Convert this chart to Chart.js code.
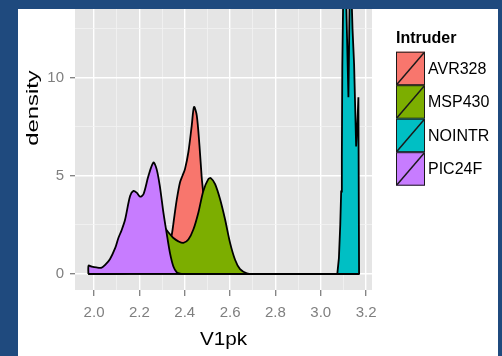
<!DOCTYPE html>
<html>
<head>
<meta charset="utf-8">
<script src="https://cdn.jsdelivr.net/npm/chart.js@4.4.1/dist/chart.umd.min.js"></script>
<style>
  html, body { margin: 0; padding: 0; width: 502px; height: 356px; overflow: hidden; background: #1F4A7E; }
  #frame { position: absolute; left: 18px; top: 9px; width: 480px; height: 347px; background: #ffffff; }
  canvas { display: block; }
</style>
</head>
<body>
<div id="frame"><canvas id="density-chart" width="480" height="347"></canvas></div>
<script>
// series (V1pk -> density)
const avrX = [1.975, 2.1, 2.2, 2.25, 2.3, 2.32, 2.335, 2.343, 2.355, 2.365, 2.379, 2.39, 2.401, 2.416, 2.431, 2.441, 2.453, 2.465, 2.475, 2.482, 2.49, 2.5, 2.52, 2.55, 2.6, 2.65, 3.17];
const avrY = [0, 0, 0.1, 0.3, 0.8, 1.3, 1.7, 2.0, 3.0, 3.8, 4.66, 5.0, 5.34, 6.2, 7.57, 8.51, 8.08, 6.54, 4.9, 4.1, 3.2, 2.0, 1.0, 0.35, 0.05, 0, 0];

const mspX = [1.975, 2.05, 2.1, 2.15, 2.2, 2.25, 2.28, 2.3, 2.318, 2.335, 2.35, 2.372, 2.394, 2.416, 2.438, 2.46, 2.482, 2.504, 2.515, 2.534, 2.556, 2.578, 2.6, 2.622, 2.644, 2.674, 2.703, 3.17];
const mspY = [0, 0.05, 0.3, 1.0, 2.0, 2.7, 2.7, 2.5, 2.26, 2.02, 1.83, 1.66, 1.58, 1.75, 2.26, 3.12, 4.23, 4.83, 4.88, 4.57, 3.8, 2.77, 1.58, 0.72, 0.24, 0.03, 0, 0];

const nointrX = [1.975, 3.073, 3.08, 3.086, 3.09, 3.093, 3.095, 3.1, 3.106, 3.114, 3.122, 3.129, 3.135, 3.14, 3.147, 3.152, 3.156, 3.161, 3.166, 3.169, 3.17];
const nointrY = [0, 0, 0.8, 2.5, 4.2, 6.0, 10.6, 15, 17, 13, 9.0, 15.5, 14.5, 12.5, 10.7, 8.4, 6.5, 7.5, 9.0, 0, 0];

const picX = [1.975, 1.976, 1.99, 2.01, 2.034, 2.049, 2.07, 2.093, 2.107, 2.122, 2.137, 2.159, 2.174, 2.188, 2.203, 2.218, 2.24, 2.262, 2.276, 2.29, 2.306, 2.32, 2.335, 2.35, 2.365, 2.38, 2.4, 3.17];
const picY = [0, 0.42, 0.37, 0.33, 0.32, 0.46, 0.75, 1.31, 1.82, 2.24, 2.77, 3.97, 4.23, 4.14, 3.94, 4.06, 5.0, 5.68, 5.34, 4.49, 3.12, 2.09, 1.06, 0.38, 0.08, 0.01, 0, 0];

const baseX = [1.975, 3.17];
const baseY = [0, 0];

const seriesNames = ["AVR328", "MSP430", "NOINTR", "PIC24F"];
const seriesColors = ["#F8766D", "#7CAE00", "#00BFC4", "#C77CFF"];

const xTicks = [2.0, 2.1, 2.2, 2.3, 2.4, 2.5, 2.6, 2.7, 2.8, 2.9, 3.0, 3.1, 3.2];
const xTickLabels = ["2.0", "", "2.2", "", "2.4", "", "2.6", "", "2.8", "", "3.0", "", "3.2"];
const yTicks = [0, 2.5, 5, 7.5, 10, 12.5];
const yTickLabels = ["0", "", "5", "", "10", ""];

const FONT = "'Liberation Sans', Arial, sans-serif";

function pts(xs, ys) {
  return xs.map((x, i) => ({ x: x, y: ys[i] }));
}

function isMajor(values, labels, v) {
  const i = values.findIndex(t => Math.abs(t - v) < 1e-6);
  return i >= 0 && labels[i] !== "";
}

// grey panel, axis titles and the legend drawn like ggplot
const ggPlugin = {
  id: "ggExtras",
  beforeDraw(chart) {
    const a = chart.chartArea, ctx = chart.ctx;
    ctx.save();
    ctx.fillStyle = "#E5E5E5";
    ctx.fillRect(a.left, a.top, a.right - a.left, a.bottom - a.top);
    ctx.restore();
  },
  afterDraw(chart) {
    const ctx = chart.ctx;
    ctx.save();
    ctx.fillStyle = "#000";

    // y title
    ctx.save();
    ctx.translate(20, 99);
    ctx.rotate(-Math.PI / 2);
    ctx.scale(1.4, 1);
    ctx.font = "17px " + FONT;
    ctx.textAlign = "center";
    ctx.textBaseline = "alphabetic";
    ctx.fillText("density", 0, 0);
    ctx.restore();

    // x title
    ctx.save();
    ctx.translate(205.5, 335.5);
    ctx.scale(1.15, 1);
    ctx.font = "18px " + FONT;
    ctx.textAlign = "center";
    ctx.fillText("V1pk", 0, 0);
    ctx.restore();

    // legend
    const lx = 378, ly = 42.7, kw = 29, kh = 33.5;
    ctx.font = "bold 16px " + FONT;
    ctx.textAlign = "left";
    ctx.fillText("Intruder", lx, 34);
    ctx.font = "16px " + FONT;
    ctx.textBaseline = "middle";
    seriesNames.forEach((name, i) => {
      const y = ly + i * kh;
      ctx.fillStyle = seriesColors[i];
      ctx.fillRect(lx, y, kw, kh);
      ctx.strokeStyle = "#1a1a1a";
      ctx.lineWidth = 1;
      ctx.strokeRect(lx + 0.5, y + 0.5, kw - 1, kh - 1);
      ctx.lineWidth = 1.5;
      ctx.beginPath();
      ctx.moveTo(lx + 1, y + kh - 1);
      ctx.lineTo(lx + kw - 1, y + 1);
      ctx.stroke();
      ctx.fillStyle = "#000";
      ctx.fillText(name, lx + kw + 3, y + kh / 2 + 1);
    });
    ctx.restore();
  }
};

function area(label, xs, ys, color, order, tension) {
  return {
    label: label,
    data: pts(xs, ys),
    borderColor: "#000",
    borderWidth: 1.8,
    backgroundColor: color,
    fill: "origin",
    pointRadius: 0,
    tension: tension,
    order: order
  };
}

const datasets = [
  area(seriesNames[0], avrX, avrY, seriesColors[0], 4, 0.3),
  area(seriesNames[1], mspX, mspY, seriesColors[1], 3, 0.3),
  area(seriesNames[2], nointrX, nointrY, seriesColors[2], 2, 0),
  area(seriesNames[3], picX, picY, seriesColors[3], 1, 0.3),
  { label: "base", data: pts(baseX, baseY), borderColor: "#000", borderWidth: 1.8, pointRadius: 0, fill: false, order: 0 }
];

const tickFont = { family: FONT, size: 15 };

new Chart(document.getElementById("density-chart"), {
  type: "line",
  data: { datasets: datasets },
  plugins: [ggPlugin],
  options: {
    responsive: false,
    animation: false,
    devicePixelRatio: 1,
    layout: { padding: { left: 0, top: 0, right: 126, bottom: 0 } },
    plugins: { legend: { display: false }, tooltip: { enabled: false } },
    scales: {
      x: {
        type: "linear",
        min: 1.916,
        max: 3.226,
        afterBuildTicks: s => { s.ticks = xTicks.map(v => ({ value: v })); },
        afterFit: s => { s.height = 66; s.paddingLeft = 0; s.paddingRight = 0; },
        border: { display: false },
        grid: {
          color: c => isMajor(xTicks, xTickLabels, c.tick.value) ? "#FFFFFF" : "#F2F2F2",
          lineWidth: c => isMajor(xTicks, xTickLabels, c.tick.value) ? 1.4 : 0.8,
          tickColor: c => isMajor(xTicks, xTickLabels, c.tick.value) ? "#7F7F7F" : "rgba(0,0,0,0)",
          tickLength: 6,
          tickWidth: 1.3
        },
        ticks: {
          autoSkip: false,
          maxRotation: 0,
          minRotation: 0,
          padding: 8,
          color: "#7F7F7F",
          font: tickFont,
          callback: (v, i) => xTickLabels[i]
        }
      },
      y: {
        type: "linear",
        min: -0.82,
        max: 13.5,
        afterBuildTicks: s => { s.ticks = yTicks.map(v => ({ value: v })); },
        afterFit: s => { s.width = 57; s.paddingTop = 0; s.paddingBottom = 0; },
        border: { display: false },
        grid: {
          color: c => isMajor(yTicks, yTickLabels, c.tick.value) ? "#FFFFFF" : "#F2F2F2",
          lineWidth: c => isMajor(yTicks, yTickLabels, c.tick.value) ? 1.4 : 0.8,
          tickColor: c => isMajor(yTicks, yTickLabels, c.tick.value) ? "#7F7F7F" : "rgba(0,0,0,0)",
          tickLength: 5,
          tickWidth: 1.3
        },
        ticks: {
          autoSkip: false,
          padding: 6,
          color: "#7F7F7F",
          font: tickFont,
          callback: (v, i) => yTickLabels[i]
        }
      }
    }
  }
});
</script>
</body>
</html>
